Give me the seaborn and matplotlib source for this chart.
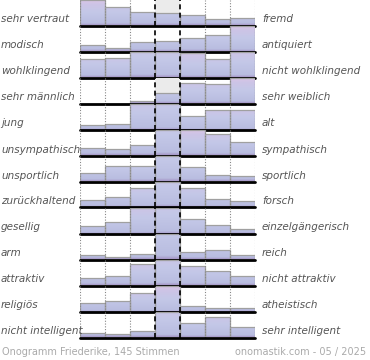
import matplotlib
matplotlib.use("Agg")
import matplotlib.pyplot as plt
from matplotlib.colors import LinearSegmentedColormap
import seaborn as sns
import numpy as np

left_labels = ["sehr vertraut", "modisch", "wohlklingend", "sehr männlich", "jung",
               "unsympathisch", "unsportlich", "zurückhaltend", "gesellig", "arm",
               "attraktiv", "religiös", "nicht intelligent"]
right_labels = ["fremd", "antiquiert", "nicht wohlklingend", "sehr weiblich", "alt",
                "sympathisch", "sportlich", "forsch", "einzelgängerisch", "reich",
                "nicht attraktiv", "atheistisch", "sehr intelligent"]

# share of votes per bin, scaled so that 1.0 fills a row (larger values are clipped)
votes = [
    [1.00, 0.71, 0.53, 0.49, 0.40, 0.24, 0.31],
    [0.26, 0.13, 0.39, 0.42, 0.53, 0.66, 1.00],
    [0.73, 0.77, 1.50, 1.40, 0.95, 0.74, 1.20],
    [0.00, 0.00, 0.10, 0.41, 0.81, 0.77, 1.00],
    [0.18, 0.22, 1.40, 1.60, 0.54, 0.78, 0.78],
    [0.31, 0.25, 0.42, 1.60, 1.00, 0.86, 0.53],
    [0.35, 0.60, 0.60, 1.70, 0.57, 0.24, 0.20],
    [0.31, 0.41, 0.77, 1.60, 0.75, 0.35, 0.25],
    [0.29, 0.45, 1.30, 1.60, 0.55, 0.33, 0.16],
    [0.19, 0.09, 0.20, 2.00, 0.29, 0.39, 0.19],
    [0.31, 0.38, 0.85, 1.40, 0.78, 0.55, 0.38],
    [0.33, 0.42, 0.73, 1.05, 0.23, 0.13, 0.12],
    [0.17, 0.13, 0.26, 1.40, 0.57, 0.79, 0.43],
]
gray_center_rows = [0, 3]
bins = list(range(7))

footer_left = "Onogramm Friederike, 145 Stimmen"
footer_right = "onomastik.com - 05 / 2025"

sns.set_theme(style="white")
plt.rcParams["font.family"] = ["DejaVu Sans"]

W, H = 370, 360
fig = plt.figure(figsize=(W / 100, H / 100), dpi=100)

cmap = LinearSegmentedColormap.from_list(
    "bar", [(0.0, "#a595c6"), (0.07, "#b9bde0"), (0.5, "#c4c8e8"),
            (0.8, "#cdc4e6"), (1.0, "#ddc6e6")])
grad = np.linspace(0, 1, 256).reshape(-1, 1)

x0_px, x1_px = 80, 255
row_h = 26
ytop = 1.02
for i, vals in enumerate(votes):
    base = 25.5 + row_h * i
    ax = fig.add_axes([x0_px / W, 1 - base / H, (x1_px - x0_px) / W, row_h / H])
    shown = [min(v, ytop) for v in vals]
    sns.barplot(x=bins, y=shown, width=1.0, ax=ax, color="#c4c8e8",
                edgecolor="#a0a0a0", linewidth=0.9, zorder=2)
    for p, v in zip(ax.containers[0], vals):
        if v <= 0:
            p.set_visible(False)
            continue
        p.set_facecolor("none")
        bx = p.get_x()
        im = ax.imshow(grad, cmap=cmap, origin="lower", aspect="auto",
                       extent=(bx, bx + p.get_width(), 0, max(v, 1.0)), zorder=1.5)
        im.set_clip_path(p)
    if i in gray_center_rows:
        ax.axvspan(2.5, 3.5, color="#ebebeb", zorder=0, lw=0)
    ax.set_xlim(-0.5, 6.5)
    ax.set_ylim(0, ytop)
    for xv in [-0.5, 0.5, 1.5, 4.5, 5.5, 6.5]:
        ax.axvline(xv, color="#888888", ls=(0, (1, 1.5)), lw=0.8, zorder=3)
    for xv in [2.5, 3.5]:
        ax.axvline(xv, color="black", ls=(0, (3, 2)), lw=1.2, zorder=3)
    ax.axhline(0, color="black", lw=2, zorder=4, clip_on=False)
    ax.set_axis_off()

    ty = 1 - (base - 6) / H
    fig.text(1 / W, ty, left_labels[i], ha="left", va="center", fontsize=7.5,
             style="italic", color="#555555")
    fig.text(262 / W, ty, right_labels[i], ha="left", va="center", fontsize=7.5,
             style="italic", color="#555555")

fig.text(2 / W, 1 - 352 / H, footer_left, ha="left", va="center", fontsize=7,
         color="#aaaaaa")
fig.text(366 / W, 1 - 352 / H, footer_right, ha="right", va="center", fontsize=7,
         color="#aaaaaa")

fig.savefig("out.png", dpi=100)
